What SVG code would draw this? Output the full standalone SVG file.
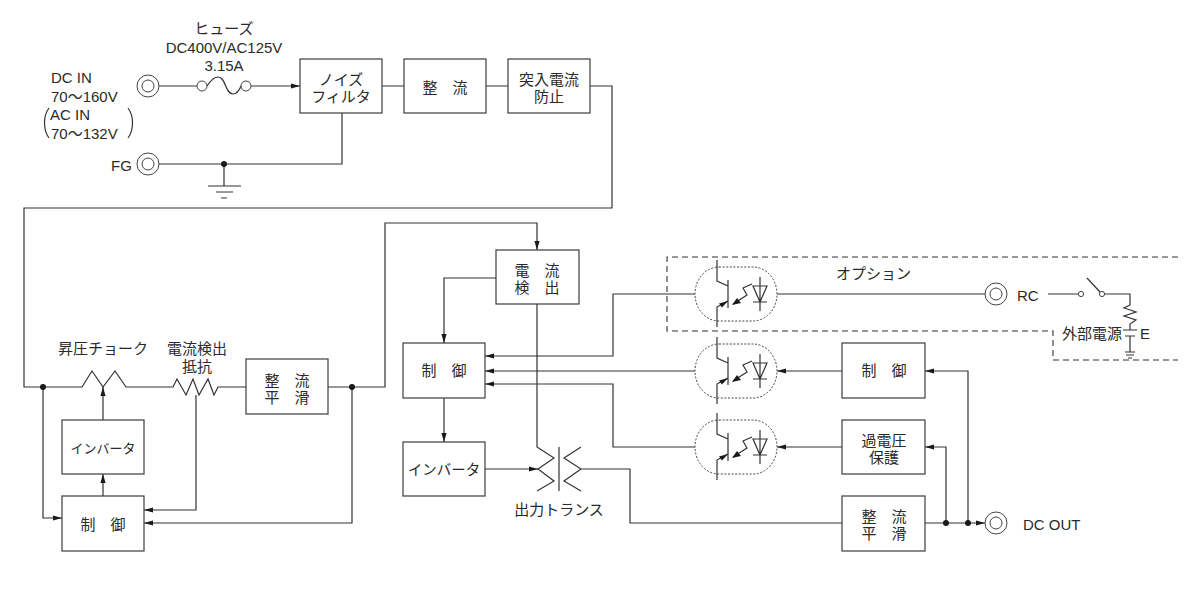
<svg xmlns="http://www.w3.org/2000/svg" width="1200" height="600" viewBox="0 0 1200 600">
<style>
text{font-family:"Liberation Sans","Noto Sans CJK JP",sans-serif;font-size:15px;fill:#2a2a2a}
.m{text-anchor:middle}
.b{fill:#fff;stroke:#3c3c3c;stroke-width:1.2}
.l{fill:none;stroke:#333;stroke-width:1.2}
.a{marker-end:url(#ar)}
.d{fill:#1a1a1a;stroke:none}
.t{fill:none;stroke:#444;stroke-width:1}
.dash{fill:none;stroke:#333;stroke-width:1.1;stroke-dasharray:6 4}
.dot{fill:none;stroke:#444;stroke-width:1;stroke-dasharray:2 1.6}
</style>
<defs>
<marker id="ar" markerUnits="userSpaceOnUse" markerWidth="10" markerHeight="6" refX="9" refY="3" orient="auto"><path d="M0 .4L9 3L0 5.6z" fill="#1a1a1a"/></marker>
<g id="opto">
<rect class="dot" x="695" y="-27" width="82" height="54" rx="24" ry="27"/>
<path class="l" d="M717-34V-13L728-8M728-14V14M728 7L717 13V33"/>
<path d="M728 7L719 9.500L722 13.500z" class="d"/>
<path class="l" d="M752-10L743-6L747 1L733 10"/>
<path d="M732 11L737 4L741 9z" class="d"/>
<path class="l" d="M753-8H767L760 8zM760-17V17M753 8H767"/>
</g>
<g id="term"><circle class="t" r="11"/><circle class="t" r="6"/></g>
</defs>

<g id="connectors">
<path class="l" d="M159 86H197"/>
<path class="l a" d="M251 86H300"/>
<path class="l" d="M207 86C211 80 214 77 218 77C226 77 225 94 233 94C237 94 239 91 241 86"/>
<path class="l" d="M159 164H342V113"/>
<path class="l" d="M224 164V186M208 186H241M216 192H233M221 198H227"/>
<path class="l" d="M382 86H404M486 86H508"/>
<path class="l" d="M590 86H612V208H24V387H82L92 371L103 387L115 371L126 387H173L177 379L186 395L193 379L199 395L208 379L214 395L218 387H246"/>
<path class="l a" d="M103 496V474"/>
<path class="l a" d="M103 420V387"/>
<path class="l a" d="M43 387V518H62"/>
<path class="l a" d="M196 395V510H144"/>
<path class="l a" d="M352 387V523H144"/>
<path class="l a" d="M328 387H385V223H537V250"/>
<path class="l a" d="M496 278H444V343"/>
<path class="l a" d="M444 398V442"/>
<path class="l a" d="M485 469H538"/>
<path class="l" d="M537 304V447L554 458L538 469L554 481L537 491M559 447V491M581 447L564 458L581 469L564 481L581 491M581 469H630V523H842"/>
<path class="l a" d="M695 294H613V356H485"/>
<path class="l a" d="M695 371H485"/>
<path class="l a" d="M695 447H613V384H485"/>
<path class="l" d="M777 294H985"/>
<path class="l a" d="M842 371H777"/>
<path class="l a" d="M842 447H777"/>
<path class="l a" d="M925 523H985"/>
<path class="l a" d="M946 523V447H925"/>
<path class="l a" d="M968 523V371H925"/>
<path class="l" d="M1048 294H1078M1087 278L1100 292M1105 294H1130V305L1124 308L1136 312L1124 316L1136 320L1130 324V330M1123 330H1137M1125 336H1135M1130 336V352M1125 352H1135M1126 355H1134M1128 358H1132"/>
<circle class="t" cx="1081" cy="294" r="2.600" fill="#fff"/>
<circle class="t" cx="1102" cy="294" r="2.600" fill="#fff"/>
<path class="dash" d="M1178 257H667V331H1053V360H1178"/>
<path class="l" d="M49 108C43 116 43 130 49 138M128 108C134 116 134 130 128 138" stroke-width="1.500"/>
<circle class="d" cx="224" cy="164" r="3"/>
<circle class="d" cx="43" cy="387" r="3"/>
<circle class="d" cx="352" cy="387" r="3"/>
<circle class="d" cx="946" cy="523" r="3"/>
<circle class="d" cx="968" cy="523" r="3"/>
</g>

<g id="dc-in-terminal"><use href="#term" x="148" y="86"/>
<text x="51" y="83">DC IN</text><text x="51" y="102">70〜160V</text><text x="50" y="120">AC IN</text><text x="51" y="139">70〜132V</text></g>
<g id="fg-terminal"><use href="#term" x="148" y="164"/><text x="111" y="171">FG</text></g>
<g id="fuse"><circle class="t" cx="202" cy="86" r="5"/><circle class="t" cx="246" cy="86" r="5"/>
<text class="m" x="224" y="34">ヒューズ</text><text class="m" x="224" y="53">DC400V/AC125V</text><text class="m" x="224" y="71">3.15A</text></g>

<g id="noise-filter"><rect class="b" x="300" y="59" width="82" height="54"/><text class="m" x="341" y="85">ノイズ</text><text class="m" x="341" y="102">フィルタ</text></g>
<g id="rectifier-1"><rect class="b" x="404" y="59" width="82" height="54"/><text class="m" x="445" y="93">整　流</text></g>
<g id="inrush"><rect class="b" x="508" y="59" width="82" height="54"/><text class="m" x="549" y="85">突入電流</text><text class="m" x="549" y="102">防止</text></g>

<g id="boost-choke"><text class="m" x="103" y="354">昇圧チョーク</text></g>
<g id="sense-resistor"><text class="m" x="197" y="354">電流検出</text><text class="m" x="197" y="372">抵抗</text></g>
<g id="rectifier-2"><rect class="b" x="246" y="359" width="82" height="55"/><text class="m" x="287" y="386">整　流</text><text class="m" x="287" y="403">平　滑</text></g>
<g id="inverter-1"><rect class="b" x="62" y="420" width="82" height="54"/><text class="m" x="103" y="453" style="font-size:13px">インバータ</text></g>
<g id="control-1"><rect class="b" x="62" y="496" width="82" height="55"/><text class="m" x="103" y="530">制　御</text></g>

<g id="current-detect"><rect class="b" x="496" y="250" width="83" height="54"/><text class="m" x="537" y="276">電　流</text><text class="m" x="537" y="293">検　出</text></g>
<g id="control-2"><rect class="b" x="403" y="343" width="82" height="55"/><text class="m" x="444" y="376">制　御</text></g>
<g id="inverter-2"><rect class="b" x="403" y="442" width="82" height="54"/><text class="m" x="444" y="475" style="font-size:14.500px">インバータ</text></g>
<g id="output-transformer"><text class="m" x="559" y="515">出力トランス</text></g>

<g id="opto-1" transform="translate(0 294)"><use href="#opto"/></g>
<g id="opto-2" transform="translate(0 371)"><use href="#opto"/></g>
<g id="opto-3" transform="translate(0 447)"><use href="#opto"/></g>

<g id="control-3"><rect class="b" x="842" y="343" width="83" height="55"/><text class="m" x="884" y="376">制　御</text></g>
<g id="ovp"><rect class="b" x="842" y="420" width="83" height="54"/><text class="m" x="884" y="446">過電圧</text><text class="m" x="884" y="463">保護</text></g>
<g id="rectifier-3"><rect class="b" x="842" y="496" width="83" height="55"/><text class="m" x="884" y="522">整　流</text><text class="m" x="884" y="539">平　滑</text></g>

<g id="option"><text x="836" y="279">オプション</text></g>
<g id="rc-terminal"><use href="#term" x="996" y="294"/><text x="1017" y="301">RC</text></g>
<g id="external-power"><text x="1062" y="339">外部電源</text><text x="1140" y="339">E</text></g>
<g id="dc-out-terminal"><use href="#term" x="996" y="523"/><text x="1023" y="530">DC OUT</text></g>
</svg>
